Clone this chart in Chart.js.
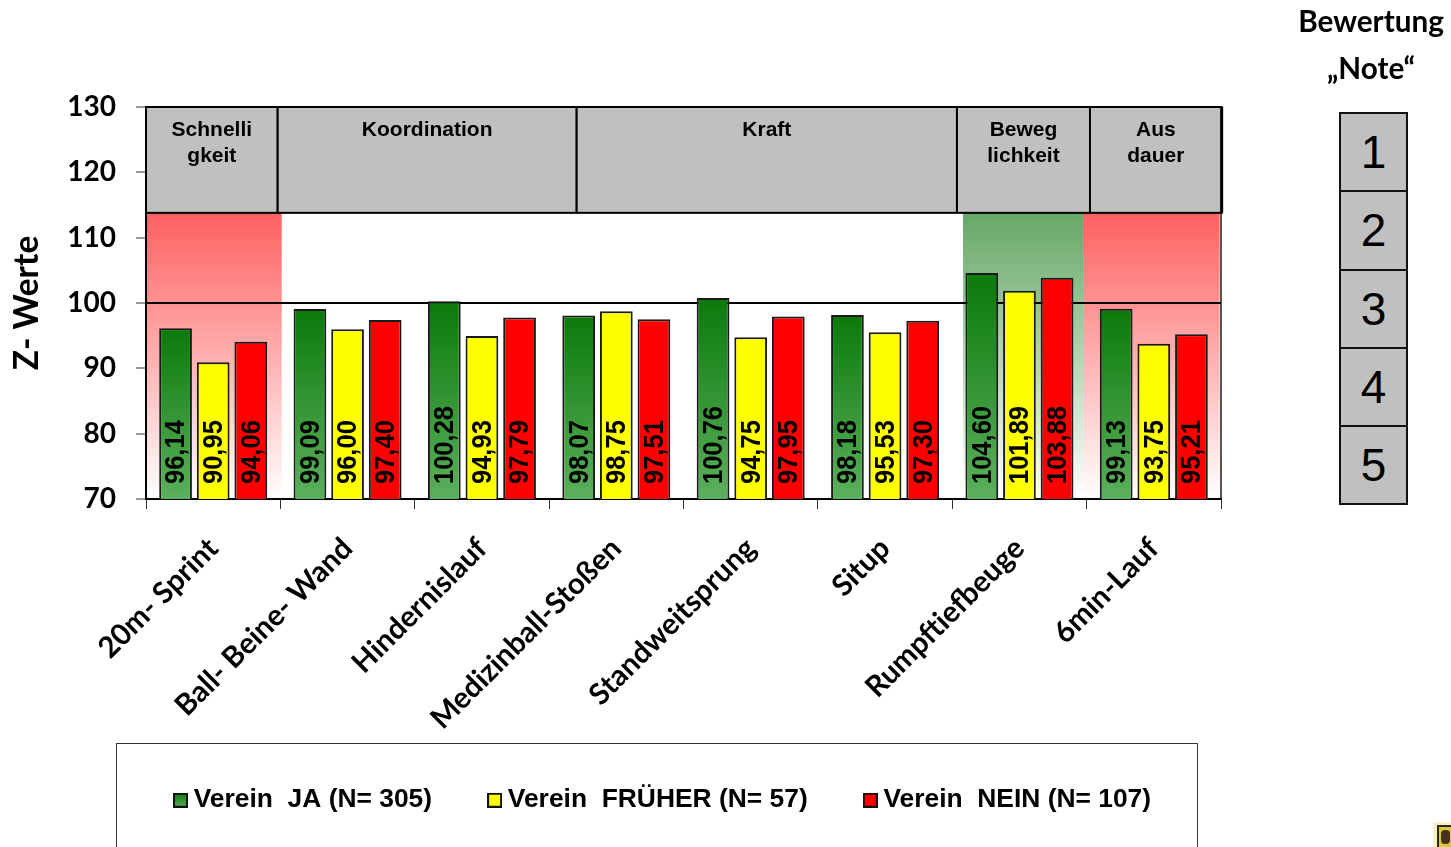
<!DOCTYPE html>
<html><head><meta charset="utf-8">
<style>
html,body{margin:0;padding:0;background:#fff;overflow:hidden}
#wrap{position:relative;width:1451px;height:847px;overflow:hidden}
canvas#c{position:absolute;left:0;top:0}
.t{position:absolute;font:bold 29.7px Lato,sans-serif;color:#000;text-align:center;width:200px;left:1271px;line-height:32px}
#grades{position:absolute;left:1339px;top:112px;width:69px;box-sizing:border-box;border:2px solid #111}
#grades div{height:76.3px;background:#c0c0c0;border-bottom:2px solid #111;font:46px "Liberation Sans",Arial,sans-serif;text-align:center;line-height:77px;color:#000}
#grades div:last-child{border-bottom:0}
#crest{position:absolute;left:1433px;top:822px;width:18px;height:25px;background:#f6f0c8}
#crest b{position:absolute;left:4px;top:3px;width:14px;height:22px;background:#2a2a1a}
#crest i{position:absolute;left:6px;top:5px;width:12px;height:20px;background:#d8c840}
#crest u{position:absolute;left:8px;top:8px;width:9px;height:14px;background:#4a3018;border-radius:4px}
</style></head>
<body><div id="wrap">
<canvas id="c" width="1451" height="847"></canvas>
<div class="t" style="top:5px">Bewertung</div>
<div class="t" style="top:52px">„Note“</div>
<div id="grades"></div>
<div id="crest"><b></b><i></i><u></u></div>
</div>
<script src="https://cdn.jsdelivr.net/npm/chart.js@4/dist/chart.umd.min.js"></script>
<script>
const categories = ["20m- Sprint","Ball- Beine- Wand","Hindernislauf","Medizinball-Stoßen","Standweitsprung","Situp","Rumpftiefbeuge","6min-Lauf"];
const seriesNames = ["Verein  JA (N= 305)","Verein  FRÜHER (N= 57)","Verein  NEIN (N= 107)"];
const vereinJa = [96.14,99.09,100.28,98.07,100.76,98.18,104.60,99.13];
const vereinFrueher = [90.95,96.00,94.93,98.75,94.75,95.53,101.89,93.75];
const vereinNein = [94.06,97.40,97.79,97.51,97.95,97.30,103.88,95.21];
const sectionNames = [["Schnelli","gkeit"],["Koordination"],["Kraft"],["Beweg","lichkeit"],["Aus","dauer"]];
const sectionEdges = [0,0.98,3.205,6.035,7.025,8.005];
const bandEdges = [[0,1.01,"r"],[6.08,6.98,"g"],[6.98,7.99,"r"]];
const grades = ["1","2","3","4","5"];

document.getElementById('grades').innerHTML = grades.map(g=>`<div>${g}</div>`).join('');

const HEADER_FLOOR = 113.8;
const ARIAL = '"Liberation Sans",Arial,sans-serif';
const VALUE_FONT = 25.5;
const LEGEND_FONT = 26.4;

function greenGrad(ctx, y0, y1){
  const g = ctx.createLinearGradient(0,y0,0,y1);
  g.addColorStop(0,'#0a7a0a'); g.addColorStop(1,'#5cb05c');
  return g;
}
function swatch(kind){
  const c=document.createElement('canvas'); c.width=15; c.height=15;
  const x=c.getContext('2d');
  x.fillStyle = kind==='g'?greenGrad(x,0,15):kind;
  x.fillRect(0,0,15,15);
  x.strokeStyle='#111'; x.lineWidth=2; x.strokeRect(1,1,13,13);
  return c;
}
const swatches=[swatch('g'),swatch('#ffff00'),swatch('#ff0000')];

const panelPlugin={
  id:'panels',
  afterLayout(chart){
    chart.legend.left=118; chart.legend.top=724.5;
  },
  beforeDraw(chart){
    const {ctx,chartArea:a,scales:{y}}=chart;
    const w=a.width/categories.length;
    const top=y.getPixelForValue(HEADER_FLOOR), bot=y.getPixelForValue(70);
    bandEdges.forEach(([u0,u1,k])=>{
      const g=ctx.createLinearGradient(0,top,0,bot);
      if(k==='r'){g.addColorStop(0,'#ff6060');g.addColorStop(1,'#ffffff');}
      else{g.addColorStop(0,'#66a866');g.addColorStop(1,'#ffffff');}
      ctx.fillStyle=g;
      ctx.fillRect(a.left+u0*w,top,(u1-u0)*w,bot-top);
    });
    ctx.strokeStyle='#555';ctx.lineWidth=2;
    ctx.beginPath();ctx.moveTo(a.right,top);ctx.lineTo(a.right,bot);ctx.stroke();
    ctx.strokeStyle='#333';ctx.lineWidth=1;
    ctx.strokeRect(116.5,743.5,1081,200);
  },
  afterDatasetsDraw(chart){
    const {ctx,chartArea:a,scales:{y}}=chart;
    const w=a.width/categories.length;
    const top=y.getPixelForValue(130), bot=y.getPixelForValue(HEADER_FLOOR);
    ctx.save();
    ctx.fillStyle='#000';
    ctx.font=`bold ${VALUE_FONT}px ${ARIAL}`;
    ctx.textAlign='left';ctx.textBaseline='middle';
    chart.data.datasets.forEach((ds,i)=>{
      chart.getDatasetMeta(i).data.forEach((bar,j)=>{
        ctx.save();
        ctx.translate(bar.x,y.getPixelForValue(70)-15);
        ctx.rotate(-Math.PI/2);
        ctx.scale(1,1.1);
        ctx.fillText(ds.data[j].toFixed(2).replace('.',','),0,1);
        ctx.restore();
      });
    });
    sectionNames.forEach((lines,i)=>{
      const x0=a.left+sectionEdges[i]*w, x1=a.left+sectionEdges[i+1]*w;
      ctx.fillStyle='#c0c0c0';
      ctx.fillRect(x0,top,x1-x0,bot-top);
      ctx.strokeStyle='#000';ctx.lineWidth=2;
      ctx.strokeRect(x0,top,x1-x0,bot-top);
      ctx.fillStyle='#000';
      ctx.font=`bold 21px ${ARIAL}`;
      ctx.textAlign='center';
      lines.forEach((s,k)=>ctx.fillText(s,(x0+x1)/2,top+23+k*26));
    });
    ctx.lineWidth=3;
    const rx=a.left+sectionEdges[5]*w;
    ctx.beginPath();ctx.moveTo(rx,top);ctx.lineTo(rx,bot);ctx.stroke();
    ctx.restore();
  }
};

new Chart(document.getElementById('c'),{
  type:'bar',
  data:{
    labels:categories,
    datasets:[
      {label:seriesNames[0],data:vereinJa,
       backgroundColor:c=>{const s=c.chart.scales.y;return (s&&c.raw!==undefined)?greenGrad(c.chart.ctx,s.getPixelForValue(c.raw),s.getPixelForValue(70)):'#0a7a0a';}},
      {label:seriesNames[1],data:vereinFrueher,backgroundColor:'#ffff00'},
      {label:seriesNames[2],data:vereinNein,backgroundColor:'#ff0000'}
    ]
  },
  plugins:[panelPlugin],
  options:{
    responsive:false,animation:false,
    layout:{padding:{top:107,right:230,left:0,bottom:0}},
    datasets:{bar:{categoryPercentage:0.84,barPercentage:0.87,borderColor:'#1a1a1a',borderWidth:2,borderSkipped:false}},
    plugins:{
      tooltip:{enabled:false},
      legend:{
        display:true,position:'bottom',align:'start',
        labels:{
          usePointStyle:true,boxWidth:0.01,boxHeight:15,padding:62.5,color:'#000',
          font:{family:ARIAL,weight:'bold',size:LEGEND_FONT},
          generateLabels:ch=>ch.data.datasets.map((d,i)=>({text:d.label,pointStyle:swatches[i],datasetIndex:i,lineWidth:0,fontColor:'#000'}))
        }
      }
    },
    scales:{
      x:{
        afterFit(s){s.height=847-499-s.chart.legend.height;},
        grid:{display:true,offset:true,drawOnChartArea:false,tickLength:10,tickColor:'#333',lineWidth:1},
        border:{color:'#000',width:2},
        ticks:{autoSkip:false,maxRotation:45,minRotation:45,padding:22,color:'#000',font:{family:'Lato',weight:'bold',size:29.4}}
      },
      y:{
        min:70,max:130,
        afterFit(s){s.width=146;},
        title:{display:true,text:'Z- Werte',color:'#000',font:{family:'Lato',weight:'bold',size:33.5},padding:{top:7,bottom:0}},
        grid:{
          color:c=>c.tick&&c.tick.value===100?'#000':'transparent',
          lineWidth:2,tickLength:10,tickColor:'#333',tickWidth:1
        },
        border:{color:'#000',width:2},
        ticks:{stepSize:10,padding:20,color:'#000',font:{family:'Lato',weight:'bold',size:28}}
      }
    }
  }
});
</script>
</body></html>
